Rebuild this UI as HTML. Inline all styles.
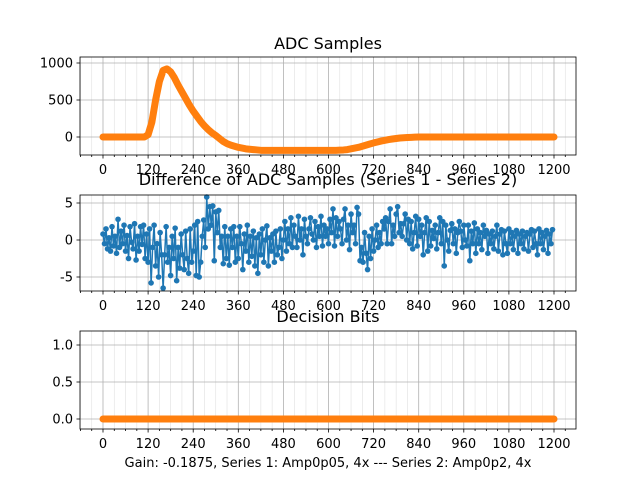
<!DOCTYPE html>
<html><head><meta charset="utf-8"><style>
body{margin:0;background:#fff}
svg{display:block;font-family:"DejaVu Sans","Liberation Sans",sans-serif}
</style></head><body>
<svg id="fig" width="640" height="480" viewBox="0 0 640 480" xmlns="http://www.w3.org/2000/svg">
<rect width="640" height="480" fill="#fff"/>
</svg>
<script>
const xTicks=[0,120,240,360,480,600,720,840,960,1080,1200];
const adcStep=10;
const adcSeries1=[0,0,0,0,0,0,0,0,0,0,0,0,
30,200,500,750,900,920,880,800,700,610,520,430,350,280,210,150,100,55,20,-20,-60,-90,-110,-125,-140,-150,-160,-165,-170,-175,
-180,-180,-180,-180,-180,-180,-180,-180,-180,-180,-180,-180,-180,-180,-180,-180,-180,-180,-180,-180,-180,
-178,-175,-170,-160,-150,-140,-125,-110,-95,-80,-67,-55,-45,-35,-27,-20,-14,-10,-7,-5,-2,
0,0,0,0,0,0,0,0,0,0,0,0,0,0,0,0,0,0,0,0,0,0,0,0,0,0,0,0,0,0,0,0,0,0,0,0,0];
const adcSeries2=adcSeries1.slice();
const adcYTicks=[0,500,1000];
const diffValues=[0.8,-0.5,1.5,-1.2,0.3,-1.5,1.8,-0.8,0.5,-1.8,2.8,-1,1.2,-0.5,2,-1.5,0.6,-2.5,1.8,-0.3,
-1.2,2.2,-2.7,0.5,-1.5,1.8,-0.6,2,-2.5,0.8,-3,1.5,-5.8,-1,2,-3.5,-0.5,-5,1,-2,
-6.5,-2,1.8,-3,-1,-4.8,0.5,-2.5,1.6,-5.5,-1,-3.8,0.8,-2,-4,1.2,-2.5,-4.5,1.5,-3,
-1.5,2,-4.8,2.5,-5,-3,0.5,2.7,-1,5.8,1.5,4.5,2,4.6,-2.8,3.8,1,4,-1,0.5,
-3.2,1.8,-2.5,0.5,-3.4,1.5,-1,1.8,-3,0.5,-2.5,1.8,-0.5,-4,0.8,-1.5,2,-3,0.5,-2.2,
1.2,-3.5,0.3,-4.5,0.8,-2,1.5,-3,0,1.9,-3.5,0.3,-1.5,0.8,-3,1.2,-2,-1,1.5,-2.5,
0,2.5,-1.5,1.5,-0.5,3,-1,2,0.5,-1,3.2,0,1.5,-2,2.8,0.5,-0.5,1.5,3,0.8,
0,2.5,-1,1.8,0.5,3.2,-0.8,2,0.5,1.5,-0.5,2.8,1,4.2,-0.8,3,0.5,2.5,1.5,-0.5,
2.8,4.2,0,2,-1.3,3.5,1,2,-0.5,4.4,3.5,-2.8,-1,-3,1,-1.8,-4,0.5,-2.5,1.5,
-1.5,0,2,-1,1,-0.5,2.5,1.5,3,-0.5,2.5,4.2,-0.5,2,0.5,3.5,4.5,1,2.2,0.5,
2.2,3.5,0,2.8,-0.5,2.5,-1.2,1,3.2,-0.8,2.8,0.5,2,-2,1,3,-1.5,2.5,-0.8,1.3,
0.2,2,-1.2,1,3,-0.5,2.5,-3.5,2,0,-1.5,1.3,2.2,-0.5,1.5,-1.8,1,2.5,1.2,-1,
2,0,-0.8,2,-2.8,1.2,-0.5,2.3,-1.8,1.5,-0.5,1,-1.3,2,0.5,1.3,-1.8,0.8,-0.5,1.2,
-1.2,0.5,2,-1.5,0.8,1.4,-2,1.2,-0.5,-1.8,1.5,-0.5,1,-1.3,0.5,1.3,-1.8,0.8,-0.5,1.2,
-1.2,0.5,1,-1.5,0.8,1.4,-1,1.2,-0.5,-2,1.5,-0.5,1,-1.3,0.5,1.3,-1.8,0.8,-0.5,1.4];
const diffStep=4;
const diffYTicks=[-5,0,5];
const bitsX=[0,1200];
const bitsValues=[0,0];
const bitsYTicks=[0.0,0.5,1.0];

const NS="http://www.w3.org/2000/svg";
const svg=document.getElementById('fig');
function el(t,a,p){const e=document.createElementNS(NS,t);for(const k in a)e.setAttribute(k,a[k]);(p||svg).appendChild(e);return e;}
const L=80,R=576;
const xs=v=>103+(v/1200)*451;

function axes(name,top,bot,ymap,yticks,fmt,title,ttlY){
  const g=el('g',{});
  
  
  for(let v=-60;v<=1260;v+=30){const x=xs(v);if(x<L||x>R)continue;
    const major=v%120===0;
    el('line',{x1:x,x2:x,y1:top,y2:bot,stroke:major?'#b0b0b0':'#e0e0e0','stroke-width':major?0.8:0.6},g);
    el('line',{x1:x,x2:x,y1:bot,y2:bot+(major?3.5:2),stroke:'#000','stroke-width':0.8},g);}
  yticks.forEach(v=>{const y=ymap(v);
    el('line',{x1:L,x2:R,y1:y,y2:y,stroke:'#b0b0b0','stroke-width':0.8},g);
    el('line',{x1:L-3.5,x2:L,y1:y,y2:y,stroke:'#000','stroke-width':0.8},g);
    const t=el('text',{x:L-7,y:y+4.5,'text-anchor':'end','font-size':13},g);t.textContent=fmt(v);
    
    });
  xTicks.forEach(v=>{const t=el('text',{x:xs(v),y:bot+19,'text-anchor':'middle','font-size':13},g);t.textContent=v;
    
    });
  const tt=el('text',{x:328,y:ttlY,'text-anchor':'middle','font-size':16},g);tt.textContent=title;
  
  
  return g;
}
function frame(g,top,bot){el('rect',{x:L,y:top,width:R-L,height:bot-top,fill:'none',stroke:'#000','stroke-width':0.8},g);}

// Plot 1
const y1=v=>137-(v/1000)*74;
const g1=axes('adc-samples-plot',57,155,y1,adcYTicks,v=>v,'ADC Samples',49);
let p=adcSeries1.map((v,i)=>xs(i*adcStep)+','+y1(v)).join(' ');
const s1=el('polyline',{points:p,fill:'none',stroke:'#1f77b4','stroke-width':2},g1);


p=adcSeries2.map((v,i)=>xs(i*adcStep)+','+y1(v)).join(' ');
const s2=el('polyline',{points:p,fill:'none',stroke:'#ff7f0e','stroke-width':7,'stroke-linejoin':'round','stroke-linecap':'round'},g1);


frame(g1,57,155);

// Plot 2
const y2=v=>240-v*7.4;
const g2=axes('difference-plot',195,291,y2,diffYTicks,v=>v,'Difference of ADC Samples (Series 1 - Series 2)',185);
p=diffValues.map((v,i)=>xs(i*diffStep)+','+y2(v)).join(' ');
const dl=el('polyline',{points:p,fill:'none',stroke:'#1f77b4','stroke-width':1.5},g2);


diffValues.forEach((v,i)=>{const c=el('circle',{cx:xs(i*diffStep),cy:y2(v),r:2.8,fill:'#1f77b4'},g2);
  
  });
frame(g2,195,291);

// Plot 3
const y3=v=>419-v*74;
const g3=axes('decision-bits-plot',331,429,y3,bitsYTicks,v=>v.toFixed(1),'Decision Bits',322);
const bl1=el('line',{x1:xs(bitsX[0]),x2:xs(bitsX[1]),y1:y3(bitsValues[0]),y2:y3(bitsValues[1]),stroke:'#1f77b4','stroke-width':2},g3);


const bl2=el('line',{x1:xs(bitsX[0]),x2:xs(bitsX[1]),y1:y3(bitsValues[0]),y2:y3(bitsValues[1]),stroke:'#ff7f0e','stroke-width':7,'stroke-linecap':'round'},g3);


frame(g3,331,429);
const xl=el('text',{x:328,y:467,'text-anchor':'middle','font-size':13});
xl.textContent='Gain: -0.1875, Series 1: Amp0p05, 4x --- Series 2: Amp0p2, 4x';


</script>
</body></html>
